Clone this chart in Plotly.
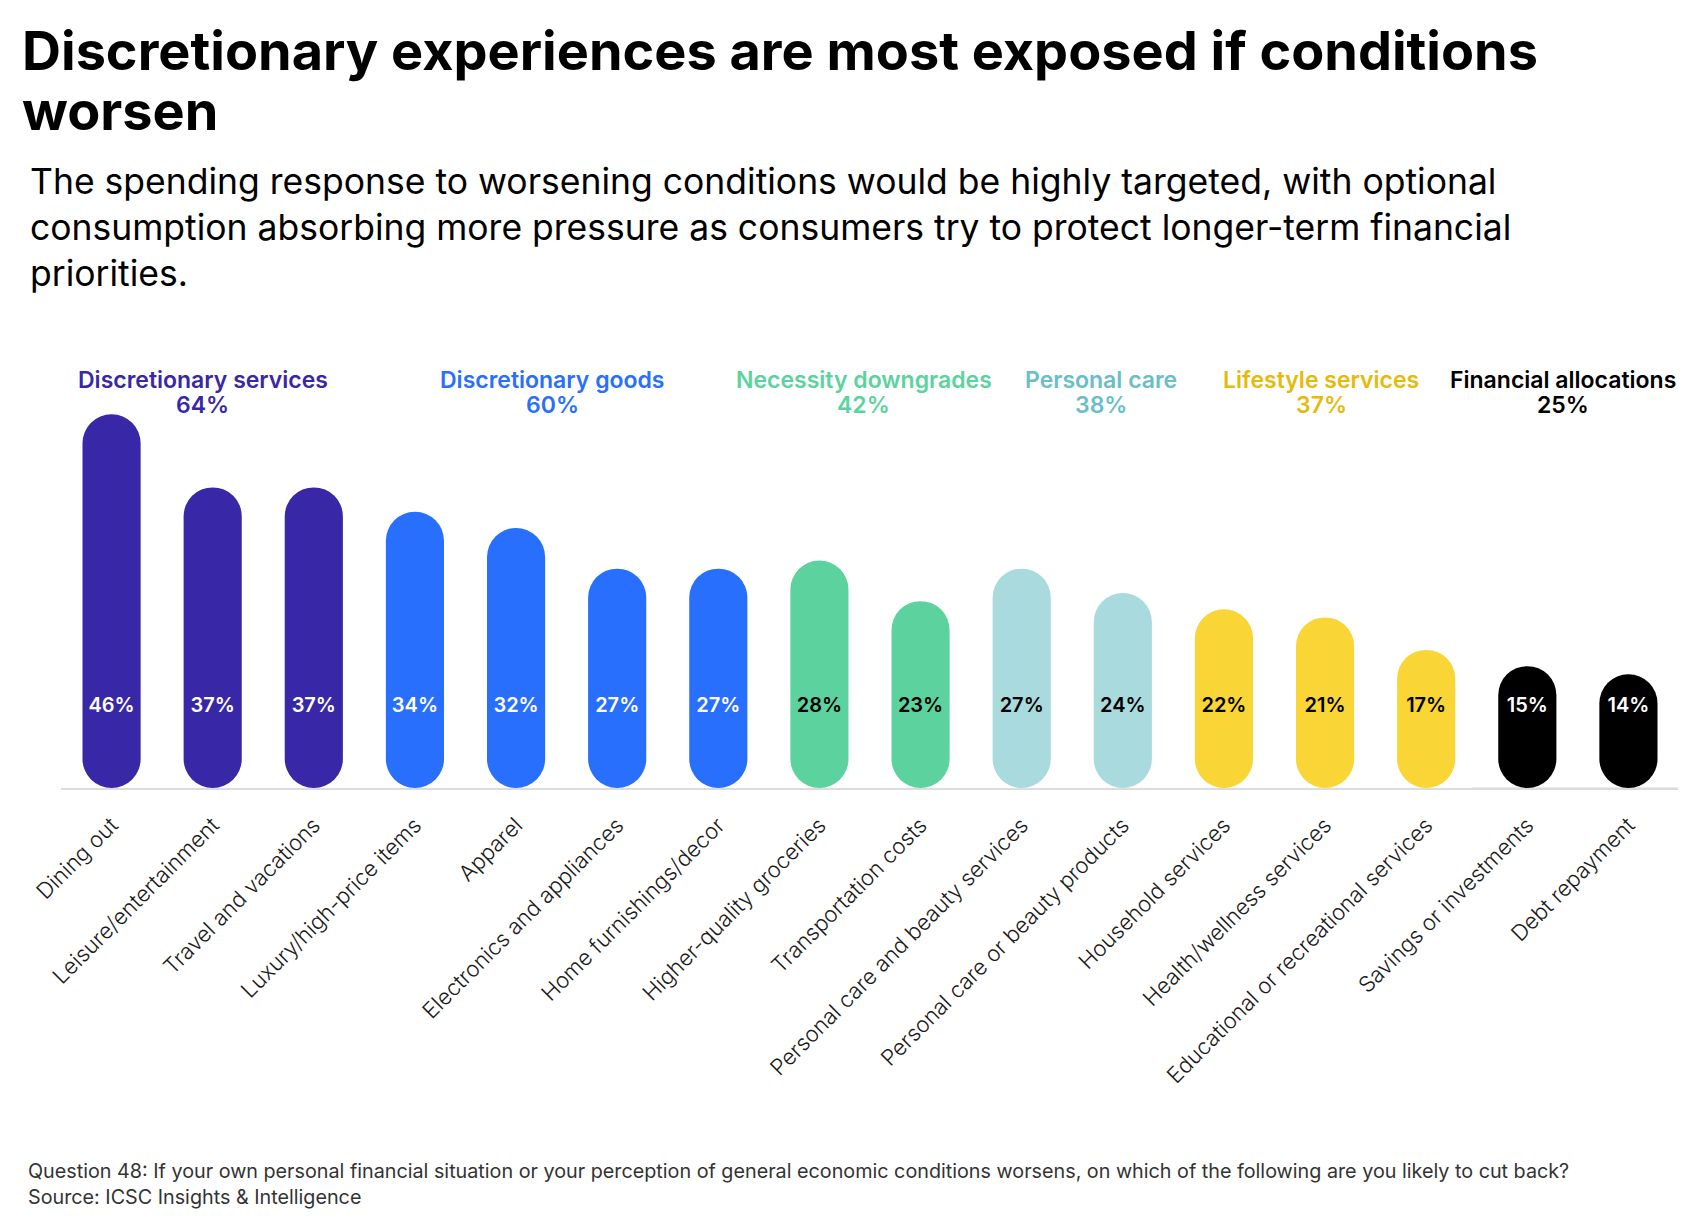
import plotly.graph_objects as go

# ---------------- data ----------------
categories = [
    "Dining out", "Leisure/entertainment", "Travel and vacations",
    "Luxury/high-price items", "Apparel", "Electronics and appliances",
    "Home furnishings/decor", "Higher-quality groceries", "Transportation costs",
    "Personal care and beauty services", "Personal care or beauty products",
    "Household services", "Health/wellness services",
    "Educational or recreational services", "Savings or investments",
    "Debt repayment",
]
values = [46, 37, 37, 34, 32, 27, 27, 28, 23, 27, 24, 22, 21, 17, 15, 14]
bar_group = [0, 0, 0, 1, 1, 1, 1, 2, 2, 3, 3, 4, 4, 4, 5, 5]

group_names = ["Discretionary services", "Discretionary goods", "Necessity downgrades",
               "Personal care", "Lifestyle services", "Financial allocations"]
group_totals = [64, 60, 42, 38, 37, 25]

title_lines = ["Discretionary experiences are most exposed if conditions", "worsen"]
subtitle = ("The spending response to worsening conditions would be highly targeted, with optional<br>"
            "consumption absorbing more pressure as consumers try to protect longer-term financial<br>"
            "priorities.")
footer = ("Question 48: If your own personal financial situation or your perception of general economic "
          "conditions worsens, on which of the following are you likely to cut back?<br>"
          "Source: ICSC Insights &amp; Intelligence")

# ---------------- style ----------------
group_bar_colors = ["#3828A7", "#296FFE", "#5CD39E", "#A9DADE", "#F9D535", "#000000"]
group_text_colors = ["#3828A7", "#296FFE", "#5CD39E", "#6ABEC6", "#E6BA0A", "#000000"]
value_text_colors = ["#FFFFFF", "#FFFFFF", "#000000", "#000000", "#000000", "#FFFFFF"]
group_label_x = [0.90, 4.36, 7.44, 9.78, 11.96, 14.35]

FONT = "Inter"
W, H = 1686, 1219
OFF = 8                      # page offset compensation
ML, MT = 61 - OFF, 333 - OFF
PLOT_W, PLOT_H = 1618, 455
MR = W - ML - PLOT_W
MB = H - MT - PLOT_H
YMAX = 56
BAR_W = 0.575
LABEL_Y = 9.95


def py(pix):
    return (MT + PLOT_H - (pix - OFF)) / PLOT_H


def px(pix):
    return (pix - OFF - ML) / PLOT_W


n = len(categories)
xs = list(range(n))
bar_colors = [group_bar_colors[g] for g in bar_group]
txt_colors = [value_text_colors[g] for g in bar_group]

fig = go.Figure()
# with an explicit base, plotly rounds both ends -> pill-shaped bars
fig.add_trace(go.Bar(
    x=xs, y=values, base=[0] * n,
    width=BAR_W, marker=dict(color=bar_colors, cornerradius="50%", line=dict(width=0)),
    hovertemplate="%{y}%<extra></extra>"))
fig.add_trace(go.Scatter(
    x=xs, y=[LABEL_Y] * n, mode="text", text=[f"{v}%" for v in values],
    textfont=dict(family=FONT, size=20, color=txt_colors, weight=600),
    hoverinfo="skip"))

annotations = []
annotations.append(dict(text=title_lines[0], x=px(20), y=py(50), xref="paper", yref="paper",
                        xanchor="left", yanchor="middle", showarrow=False,
                        font=dict(family=FONT, size=54, color="#000000", weight=700)))
annotations.append(dict(text=title_lines[1], x=px(20), y=py(111), xref="paper", yref="paper",
                        xanchor="left", yanchor="middle", showarrow=False,
                        font=dict(family=FONT, size=54, color="#000000", weight=700)))
annotations.append(dict(text=subtitle, x=px(28), y=py(228), xref="paper", yref="paper",
                        xanchor="left", yanchor="middle", align="left", showarrow=False,
                        font=dict(family=FONT, size=35.5, color="#000000")))
annotations.append(dict(text=footer, x=px(26), y=py(1184), xref="paper", yref="paper",
                        xanchor="left", yanchor="middle", align="left", showarrow=False,
                        font=dict(family=FONT, size=19.75, color="#333333")))
for gi, name in enumerate(group_names):
    annotations.append(dict(text=name, x=group_label_x[gi], y=py(380), xref="x", yref="paper",
                            xanchor="center", yanchor="middle", showarrow=False,
                            font=dict(family=FONT, size=23, color=group_text_colors[gi], weight=600)))
    annotations.append(dict(text=f"{group_totals[gi]}%", x=group_label_x[gi], y=py(405),
                            xref="x", yref="paper", xanchor="center", yanchor="middle",
                            showarrow=False,
                            font=dict(family=FONT, size=23, color=group_text_colors[gi], weight=600)))

fig.update_layout(
    width=W, height=H,
    margin=dict(l=ML, r=MR, t=MT, b=MB, pad=0),
    paper_bgcolor="white", plot_bgcolor="white",
    barmode="overlay", showlegend=False,
    annotations=annotations,
    shapes=[dict(type="line", xref="x", yref="y", x0=13.45, x1=15.7, y0=-0.12, y1=-0.12,
                 line=dict(color="#D6D6D6", width=3), layer="below")],
    xaxis=dict(range=[-0.5, 15.5], tickmode="array", tickvals=xs, ticktext=categories,
               tickangle=-45, showline=True, linecolor="#DCDCDC", linewidth=1.5,
               showgrid=False, zeroline=False, ticks="", ticklabelstandoff=14,
               tickfont=dict(family=FONT, size=22, color="#1A1A1A", weight=300),
               fixedrange=True),
    yaxis=dict(range=[0, YMAX], visible=False, fixedrange=True),
)

fig.write_html("out.html")
